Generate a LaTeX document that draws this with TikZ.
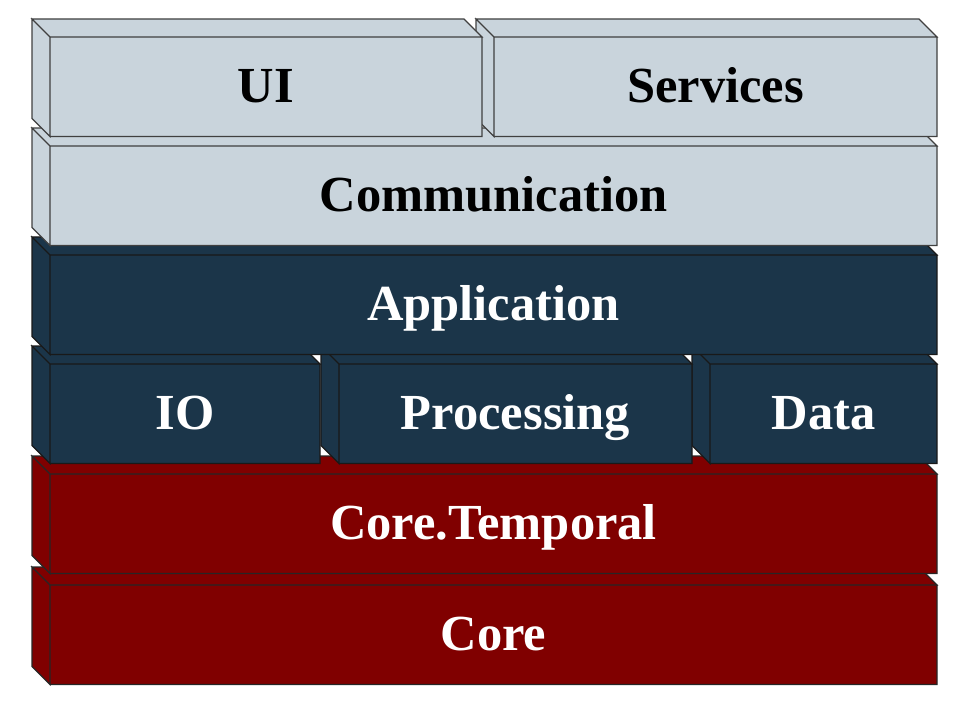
\documentclass[tikz,border=0pt]{standalone}
\usepackage{fontspec}
\setmainfont{Liberation Serif}
\definecolor{layerlight}{HTML}{C9D4DC}
\definecolor{layernavy}{HTML}{1B3549}
\definecolor{layerred}{HTML}{800000}
\tikzset{
  layer block/.pic={
    \tikzset{%
      /layer/.cd,
      #1
    }
    \draw [pic actions, fill=\layerpaint]
    (0,0) coordinate (-ftl) -- ++(\layerw,0) coordinate (-ftr) -- ++(0,\layerh) coordinate (-fbr) -- ++(-\layerw,0) coordinate (-fbl) -- cycle
    (-ftl) -- ++(-\layerd,-\layerd) coordinate (-btl) -- ++(\layerw,0) coordinate (-btr) -- (-ftr) -- cycle
    (-ftl) -- (-btl) -- ++(0,\layerh) coordinate (-bbl) -- (-fbl) -- cycle;
    \node [layer text, text=\layerink, anchor=base] (-label) at ({\layerw/2},{\layerh/2+16}) {\layercaption};
  },
  layer text/.style={inner sep=0pt, font=\bfseries\fontsize{50.5}{60}\selectfont},
  /layer/.search also={/tikz},
  /layer/.cd,
  width/.store in=\layerw,
  height/.store in=\layerh,
  depth/.store in=\layerd,
  paint/.store in=\layerpaint,
  ink/.store in=\layerink,
  caption/.store in=\layercaption,
  width=887,
  height=99.5,
  depth=18,
  paint=layerlight,
  ink=black,
  caption=,
}

\begin{document}
\begin{tikzpicture}[x=1pt, y=-1pt, line width=1.1pt, line join=miter]
  \useasboundingbox (0,0) rectangle (969,719);
  \pic [draw=black!85] (core) at (50,585) {layer block={paint=layerred, ink=white, caption=Core}};
  \pic [draw=black!85] (temporal) at (50,474) {layer block={paint=layerred, ink=white, caption=Core.Temporal}};
  \pic [draw=black!90] (data) at (710,364) {layer block={width=227, paint=layernavy, ink=white, caption=Data}};
  \pic [draw=black!90] (processing) at (339,364) {layer block={width=353, paint=layernavy, ink=white, caption=Processing}};
  \pic [draw=black!90] (io) at (50,364) {layer block={width=270, paint=layernavy, ink=white, caption=IO}};
  \pic [draw=black!90] (application) at (50,255) {layer block={paint=layernavy, ink=white, caption=Application}};
  \pic [draw=black!75] (communication) at (50,146) {layer block={caption=Communication}};
  \pic [draw=black!75] (services) at (494,37) {layer block={width=443, caption=Services}};
  \pic [draw=black!75] (ui) at (50,37) {layer block={width=432, caption=UI}};
\end{tikzpicture}
\end{document}
